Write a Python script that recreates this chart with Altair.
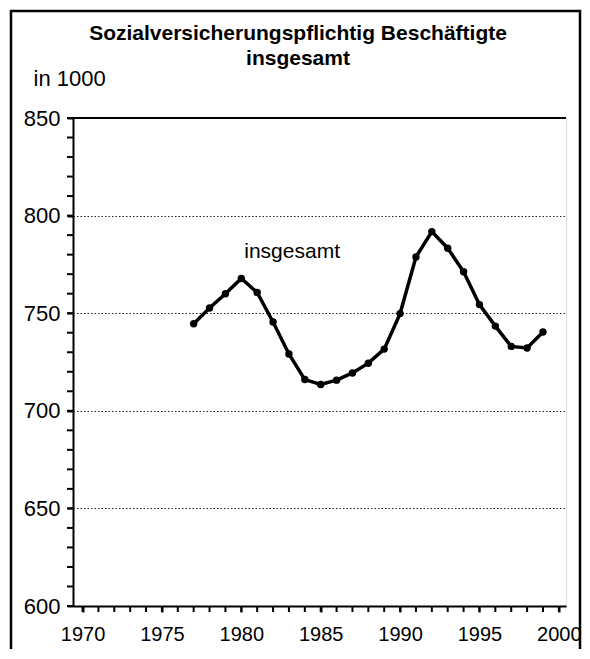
import altair as alt
import pandas as pd

years = list(range(1977, 2000))
values = [744.6, 752.7, 760.0, 767.8, 760.6, 745.5, 729.1, 716.0, 713.5, 715.7,
          719.4, 724.4, 731.6, 749.8, 778.8, 791.8, 783.3, 771.2, 754.4, 743.4,
          733.0, 732.2, 740.4]
title_line1 = ["Sozialversicherungspflichtig Beschäftigte"]
title_line2 = ["insgesamt"]
y_unit = "in 1000"
series_label = ["insgesamt"]
series_label_x = [1983.2]
series_label_y = [778.3]
x_labels = list(range(1970, 2001, 5))
y_labels = list(range(600, 851, 50))
x_minor = list(range(1970, 2001))
y_minor = list(range(600, 851, 10))

FONT = "Liberation Sans, Arial, sans-serif"
W, H = 493, 488

df = pd.DataFrame({"year": years, "value": values})
lab = pd.DataFrame({"x": series_label_x, "y": series_label_y, "t": series_label})
t1 = pd.DataFrame({"t": title_line1})
t2 = pd.DataFrame({"t": title_line2})
xm = pd.DataFrame({"year": x_minor})
ym = pd.DataFrame({"value": y_minor})

x_scale = alt.Scale(domain=[1969.4, 2000.45], nice=False, zero=False)
y_scale = alt.Scale(domain=[600, 850], nice=False, zero=False)

x_axis = alt.Axis(
    values=x_labels, title=None, grid=False, format="d",
    tickSize=6, tickWidth=2, tickColor="black",
    labelFontSize=20, labelFont=FONT, labelColor="black", labelPadding=12,
    domainColor="black", domainWidth=2, labelFlush=False, labelOverlap=False,
)
y_axis = alt.Axis(
    values=y_labels, title=y_unit, titleAngle=0, titleAlign="left",
    titleBaseline="alphabetic", titleX=-40, titleY=-33,
    titleFont=FONT, titleFontSize=22, titleFontWeight="normal", titleColor="black",
    format="d", tickSize=6, tickWidth=2, tickColor="black",
    labelFontSize=22, labelFont=FONT, labelColor="black", labelPadding=7,
    domainColor="black", domainWidth=2, labelOverlap=False, labelFlush=False,
    grid=True, gridColor="black", gridDash=[1.5, 2], gridWidth=1,
    gridOpacity=alt.ExprRef(expr="datum.value > 600 && datum.value < 850 ? 0.85 : 0"),
)

X = alt.X("year:Q", scale=x_scale, axis=x_axis)
Y = alt.Y("value:Q", scale=y_scale, axis=y_axis)

line = alt.Chart(df).mark_line(color="black", strokeWidth=3.5).encode(x=X, y=Y)
pts = alt.Chart(df).mark_point(filled=True, color="black", size=55, opacity=1).encode(x=X, y=Y)
xticks = alt.Chart(xm).mark_rule(color="black", strokeWidth=2).encode(
    x=X, y=alt.value(H), y2=alt.value(H + 6)
)
yticks = alt.Chart(ym).mark_rule(color="black", strokeWidth=2).encode(
    y=Y, x=alt.value(-6), x2=alt.value(0)
)
text = alt.Chart(lab).mark_text(
    font=FONT, fontSize=21, color="black", baseline="alphabetic", align="center"
).encode(
    x=alt.X("x:Q", scale=x_scale, axis=x_axis),
    y=alt.Y("y:Q", scale=y_scale, axis=y_axis),
    text="t:N",
)
title1 = alt.Chart(t1).mark_text(
    font=FONT, fontSize=21, fontWeight="bold", color="black",
    baseline="alphabetic", align="center"
).encode(x=alt.value(225), y=alt.value(-78), text="t:N")
title2 = alt.Chart(t2).mark_text(
    font=FONT, fontSize=21, fontWeight="bold", color="black",
    baseline="alphabetic", align="center"
).encode(x=alt.value(225), y=alt.value(-53), text="t:N")
frame = alt.Chart(t1).mark_rect(
    fill=None, stroke="black", strokeWidth=2.5, clip=False
).encode(
    x=alt.value(-62), x2=alt.value(507), y=alt.value(-107), y2=alt.value(560),
)
top_edge = alt.Chart(t1).mark_rule(color="black", strokeWidth=2).encode(
    x=alt.value(0), x2=alt.value(W), y=alt.value(0)
)

chart = alt.layer(frame, title1, title2, xticks, yticks, line, pts, text, top_edge).properties(
    width=W, height=H,
    autosize="none",
    padding={"left": 65, "top": 110, "right": 16, "bottom": 43},
).configure_view(stroke="black", strokeWidth=2).configure(background="white")

chart.save("out.html", embed_options={"renderer": "svg", "actions": False})
